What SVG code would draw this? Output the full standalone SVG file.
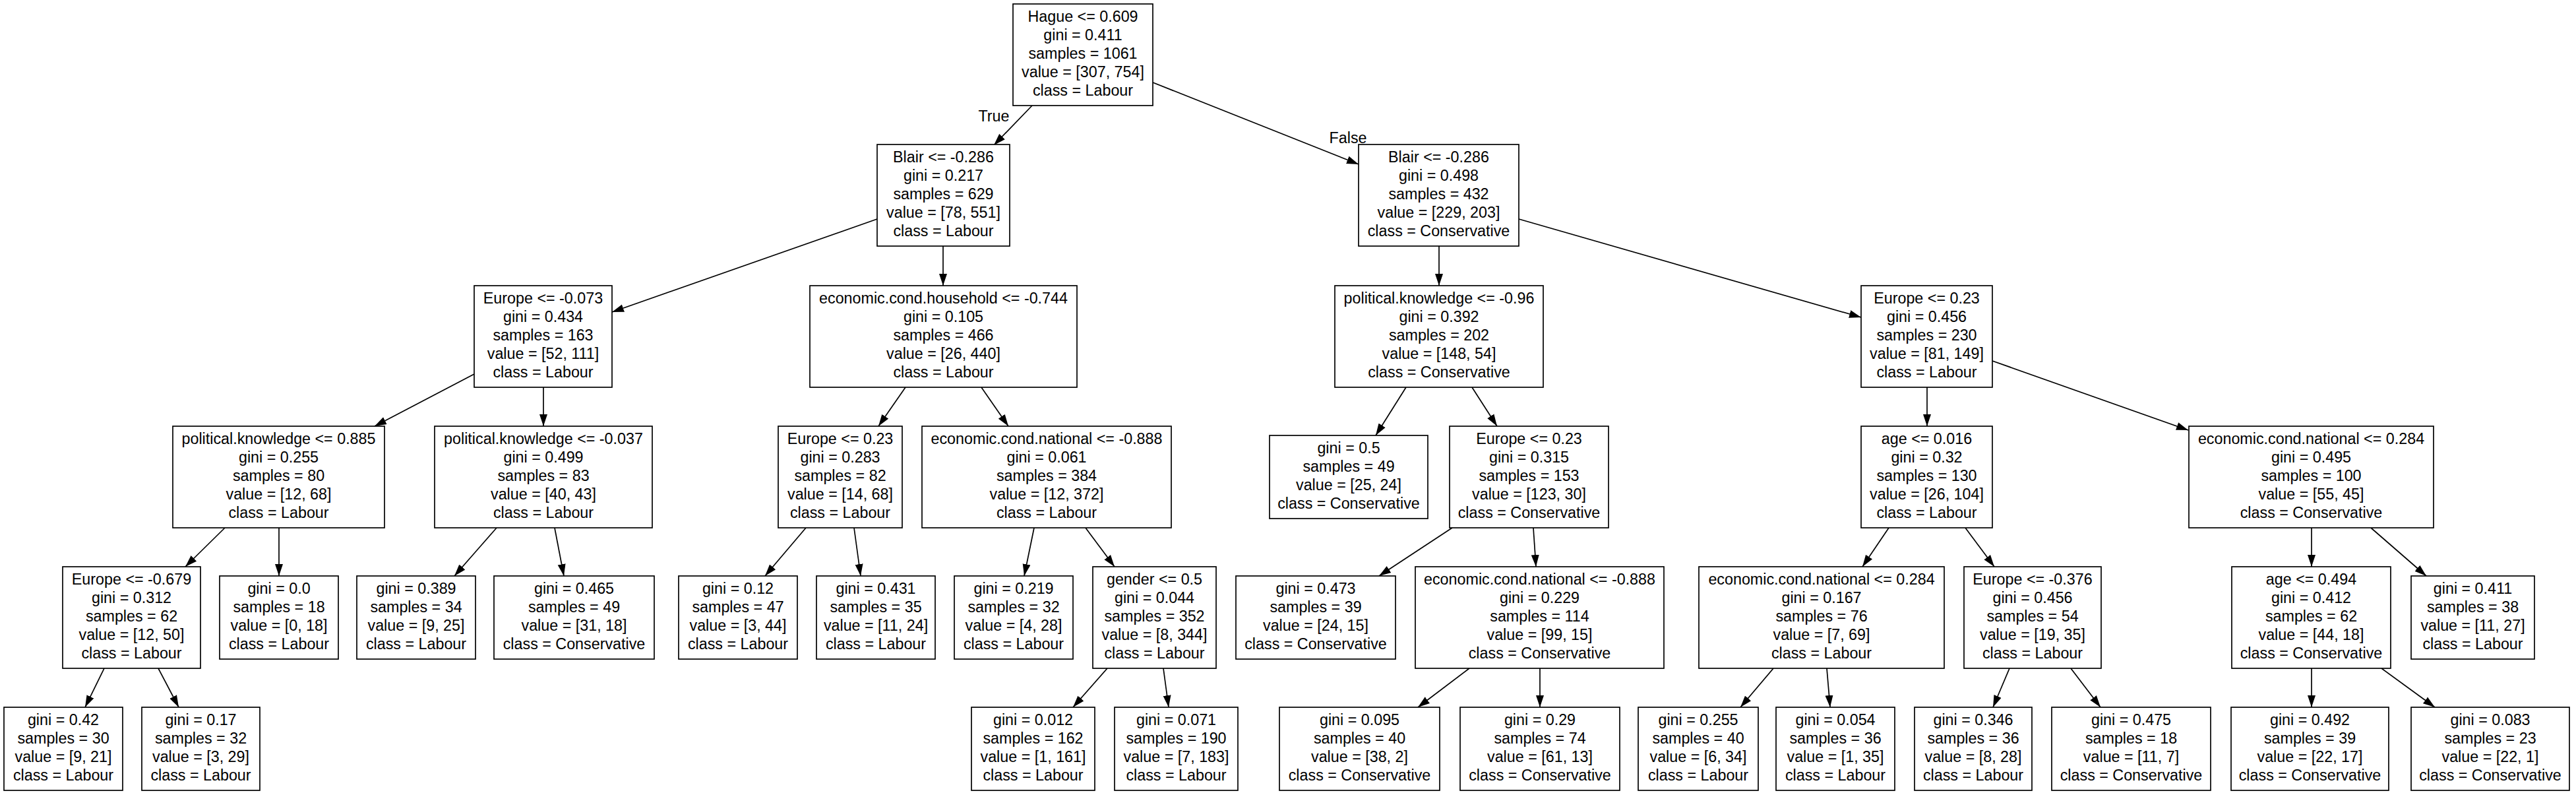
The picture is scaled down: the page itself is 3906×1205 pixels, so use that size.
<svg xmlns="http://www.w3.org/2000/svg" width="3906" height="1205" viewBox="0 0 3906 1205">
<style>
.b{fill:#fff;stroke:#000;stroke-width:1.7}
.t{font-family:"Liberation Sans",Arial,sans-serif;font-size:23.3px;text-anchor:middle;fill:#000}
.e{fill:none;stroke:#000;stroke-width:1.7;marker-end:url(#ah)}
</style>
<defs>
<marker id="ah" markerUnits="userSpaceOnUse" markerWidth="19" markerHeight="13" refX="18" refY="6.5" orient="auto"><path d="M0,0.5 L18,6.5 L0,12.5 z" fill="#000"/></marker>
</defs>
<rect width="3906" height="1205" fill="#fff"/>
<g id="connectors">
<path class="e" d="M1565,160 L1507,220"/>
<path class="e" d="M1748,125 L2060,249"/>
<path class="e" d="M1330,332 L928,473"/>
<path class="e" d="M1430,373 L1430,433"/>
<path class="e" d="M2182,373 L2182,433"/>
<path class="e" d="M2303,332 L2822,481"/>
<path class="e" d="M719,567 L568,646"/>
<path class="e" d="M824,587 L824,646"/>
<path class="e" d="M1373,587 L1332,646"/>
<path class="e" d="M1488,587 L1529,646"/>
<path class="e" d="M2132,587 L2086,660"/>
<path class="e" d="M2232,587 L2270,646"/>
<path class="e" d="M2922,587 L2922,646"/>
<path class="e" d="M3021,547 L3318,652"/>
<path class="e" d="M341,800 L281,859"/>
<path class="e" d="M423,800 L423,873"/>
<path class="e" d="M753,800 L689,873"/>
<path class="e" d="M841,800 L855,873"/>
<path class="e" d="M1222,800 L1160,873"/>
<path class="e" d="M1295,800 L1305,873"/>
<path class="e" d="M1568,800 L1553,873"/>
<path class="e" d="M1646,800 L1690,859"/>
<path class="e" d="M2202,800 L2091,873"/>
<path class="e" d="M2325,800 L2329,859"/>
<path class="e" d="M2864,800 L2824,859"/>
<path class="e" d="M2980,800 L3024,859"/>
<path class="e" d="M3505,800 L3505,859"/>
<path class="e" d="M3595,800 L3679,873"/>
<path class="e" d="M158,1013 L129,1072"/>
<path class="e" d="M240,1013 L271,1072"/>
<path class="e" d="M1679,1013 L1627,1072"/>
<path class="e" d="M1764,1013 L1772,1072"/>
<path class="e" d="M2228,1013 L2150,1072"/>
<path class="e" d="M2335,1013 L2335,1072"/>
<path class="e" d="M2689,1013 L2639,1072"/>
<path class="e" d="M2770,1013 L2775,1072"/>
<path class="e" d="M3047,1013 L3022,1072"/>
<path class="e" d="M3140,1013 L3185,1072"/>
<path class="e" d="M3505,1013 L3505,1072"/>
<path class="e" d="M3611,1013 L3692,1072"/>
<text class="t" x="1507" y="184">True</text>
<text class="t" x="2044" y="217">False</text>
</g>
<g id="n0"><rect class="b" x="1536" y="6" width="212" height="154"/><text class="t" y="33"><tspan x="1642">Hague &lt;= 0.609</tspan><tspan x="1642" dy="28">gini = 0.411</tspan><tspan x="1642" dy="28">samples = 1061</tspan><tspan x="1642" dy="28">value = [307, 754]</tspan><tspan x="1642" dy="28">class = Labour</tspan></text></g>
<g id="n1"><rect class="b" x="1330" y="219" width="201" height="154"/><text class="t" y="246"><tspan x="1430.5">Blair &lt;= -0.286</tspan><tspan x="1430.5" dy="28">gini = 0.217</tspan><tspan x="1430.5" dy="28">samples = 629</tspan><tspan x="1430.5" dy="28">value = [78, 551]</tspan><tspan x="1430.5" dy="28">class = Labour</tspan></text></g>
<g id="n2"><rect class="b" x="2060" y="219" width="243" height="154"/><text class="t" y="246"><tspan x="2181.5">Blair &lt;= -0.286</tspan><tspan x="2181.5" dy="28">gini = 0.498</tspan><tspan x="2181.5" dy="28">samples = 432</tspan><tspan x="2181.5" dy="28">value = [229, 203]</tspan><tspan x="2181.5" dy="28">class = Conservative</tspan></text></g>
<g id="n3"><rect class="b" x="719" y="433" width="209" height="154"/><text class="t" y="460"><tspan x="823.5">Europe &lt;= -0.073</tspan><tspan x="823.5" dy="28">gini = 0.434</tspan><tspan x="823.5" dy="28">samples = 163</tspan><tspan x="823.5" dy="28">value = [52, 111]</tspan><tspan x="823.5" dy="28">class = Labour</tspan></text></g>
<g id="n4"><rect class="b" x="1228" y="433" width="405" height="154"/><text class="t" y="460"><tspan x="1430.5">economic.cond.household &lt;= -0.744</tspan><tspan x="1430.5" dy="28">gini = 0.105</tspan><tspan x="1430.5" dy="28">samples = 466</tspan><tspan x="1430.5" dy="28">value = [26, 440]</tspan><tspan x="1430.5" dy="28">class = Labour</tspan></text></g>
<g id="n5"><rect class="b" x="2024" y="433" width="316" height="154"/><text class="t" y="460"><tspan x="2182">political.knowledge &lt;= -0.96</tspan><tspan x="2182" dy="28">gini = 0.392</tspan><tspan x="2182" dy="28">samples = 202</tspan><tspan x="2182" dy="28">value = [148, 54]</tspan><tspan x="2182" dy="28">class = Conservative</tspan></text></g>
<g id="n6"><rect class="b" x="2822" y="433" width="199" height="154"/><text class="t" y="460"><tspan x="2921.5">Europe &lt;= 0.23</tspan><tspan x="2921.5" dy="28">gini = 0.456</tspan><tspan x="2921.5" dy="28">samples = 230</tspan><tspan x="2921.5" dy="28">value = [81, 149]</tspan><tspan x="2921.5" dy="28">class = Labour</tspan></text></g>
<g id="n7"><rect class="b" x="262" y="646" width="321" height="154"/><text class="t" y="673"><tspan x="422.5">political.knowledge &lt;= 0.885</tspan><tspan x="422.5" dy="28">gini = 0.255</tspan><tspan x="422.5" dy="28">samples = 80</tspan><tspan x="422.5" dy="28">value = [12, 68]</tspan><tspan x="422.5" dy="28">class = Labour</tspan></text></g>
<g id="n8"><rect class="b" x="659" y="646" width="330" height="154"/><text class="t" y="673"><tspan x="824">political.knowledge &lt;= -0.037</tspan><tspan x="824" dy="28">gini = 0.499</tspan><tspan x="824" dy="28">samples = 83</tspan><tspan x="824" dy="28">value = [40, 43]</tspan><tspan x="824" dy="28">class = Labour</tspan></text></g>
<g id="n9"><rect class="b" x="1180" y="646" width="188" height="154"/><text class="t" y="673"><tspan x="1274">Europe &lt;= 0.23</tspan><tspan x="1274" dy="28">gini = 0.283</tspan><tspan x="1274" dy="28">samples = 82</tspan><tspan x="1274" dy="28">value = [14, 68]</tspan><tspan x="1274" dy="28">class = Labour</tspan></text></g>
<g id="n10"><rect class="b" x="1398" y="646" width="378" height="154"/><text class="t" y="673"><tspan x="1587">economic.cond.national &lt;= -0.888</tspan><tspan x="1587" dy="28">gini = 0.061</tspan><tspan x="1587" dy="28">samples = 384</tspan><tspan x="1587" dy="28">value = [12, 372]</tspan><tspan x="1587" dy="28">class = Labour</tspan></text></g>
<g id="n11"><rect class="b" x="1925" y="660" width="240" height="126"/><text class="t" y="687"><tspan x="2045">gini = 0.5</tspan><tspan x="2045" dy="28">samples = 49</tspan><tspan x="2045" dy="28">value = [25, 24]</tspan><tspan x="2045" dy="28">class = Conservative</tspan></text></g>
<g id="n12"><rect class="b" x="2198" y="646" width="241" height="154"/><text class="t" y="673"><tspan x="2318.5">Europe &lt;= 0.23</tspan><tspan x="2318.5" dy="28">gini = 0.315</tspan><tspan x="2318.5" dy="28">samples = 153</tspan><tspan x="2318.5" dy="28">value = [123, 30]</tspan><tspan x="2318.5" dy="28">class = Conservative</tspan></text></g>
<g id="n13"><rect class="b" x="2822" y="646" width="199" height="154"/><text class="t" y="673"><tspan x="2921.5">age &lt;= 0.016</tspan><tspan x="2921.5" dy="28">gini = 0.32</tspan><tspan x="2921.5" dy="28">samples = 130</tspan><tspan x="2921.5" dy="28">value = [26, 104]</tspan><tspan x="2921.5" dy="28">class = Labour</tspan></text></g>
<g id="n14"><rect class="b" x="3319" y="646" width="371" height="154"/><text class="t" y="673"><tspan x="3504.5">economic.cond.national &lt;= 0.284</tspan><tspan x="3504.5" dy="28">gini = 0.495</tspan><tspan x="3504.5" dy="28">samples = 100</tspan><tspan x="3504.5" dy="28">value = [55, 45]</tspan><tspan x="3504.5" dy="28">class = Conservative</tspan></text></g>
<g id="n15"><rect class="b" x="95" y="859" width="209" height="154"/><text class="t" y="886"><tspan x="199.5">Europe &lt;= -0.679</tspan><tspan x="199.5" dy="28">gini = 0.312</tspan><tspan x="199.5" dy="28">samples = 62</tspan><tspan x="199.5" dy="28">value = [12, 50]</tspan><tspan x="199.5" dy="28">class = Labour</tspan></text></g>
<g id="n16"><rect class="b" x="333" y="873" width="180" height="126"/><text class="t" y="900"><tspan x="423">gini = 0.0</tspan><tspan x="423" dy="28">samples = 18</tspan><tspan x="423" dy="28">value = [0, 18]</tspan><tspan x="423" dy="28">class = Labour</tspan></text></g>
<g id="n17"><rect class="b" x="541" y="873" width="180" height="126"/><text class="t" y="900"><tspan x="631">gini = 0.389</tspan><tspan x="631" dy="28">samples = 34</tspan><tspan x="631" dy="28">value = [9, 25]</tspan><tspan x="631" dy="28">class = Labour</tspan></text></g>
<g id="n18"><rect class="b" x="749" y="873" width="243" height="126"/><text class="t" y="900"><tspan x="870.5">gini = 0.465</tspan><tspan x="870.5" dy="28">samples = 49</tspan><tspan x="870.5" dy="28">value = [31, 18]</tspan><tspan x="870.5" dy="28">class = Conservative</tspan></text></g>
<g id="n19"><rect class="b" x="1029" y="873" width="180" height="126"/><text class="t" y="900"><tspan x="1119">gini = 0.12</tspan><tspan x="1119" dy="28">samples = 47</tspan><tspan x="1119" dy="28">value = [3, 44]</tspan><tspan x="1119" dy="28">class = Labour</tspan></text></g>
<g id="n20"><rect class="b" x="1238" y="873" width="180" height="126"/><text class="t" y="900"><tspan x="1328">gini = 0.431</tspan><tspan x="1328" dy="28">samples = 35</tspan><tspan x="1328" dy="28">value = [11, 24]</tspan><tspan x="1328" dy="28">class = Labour</tspan></text></g>
<g id="n21"><rect class="b" x="1447" y="873" width="180" height="126"/><text class="t" y="900"><tspan x="1537">gini = 0.219</tspan><tspan x="1537" dy="28">samples = 32</tspan><tspan x="1537" dy="28">value = [4, 28]</tspan><tspan x="1537" dy="28">class = Labour</tspan></text></g>
<g id="n22"><rect class="b" x="1657" y="859" width="187" height="154"/><text class="t" y="886"><tspan x="1750.5">gender &lt;= 0.5</tspan><tspan x="1750.5" dy="28">gini = 0.044</tspan><tspan x="1750.5" dy="28">samples = 352</tspan><tspan x="1750.5" dy="28">value = [8, 344]</tspan><tspan x="1750.5" dy="28">class = Labour</tspan></text></g>
<g id="n23"><rect class="b" x="1874" y="873" width="242" height="126"/><text class="t" y="900"><tspan x="1995">gini = 0.473</tspan><tspan x="1995" dy="28">samples = 39</tspan><tspan x="1995" dy="28">value = [24, 15]</tspan><tspan x="1995" dy="28">class = Conservative</tspan></text></g>
<g id="n24"><rect class="b" x="2146" y="859" width="377" height="154"/><text class="t" y="886"><tspan x="2334.5">economic.cond.national &lt;= -0.888</tspan><tspan x="2334.5" dy="28">gini = 0.229</tspan><tspan x="2334.5" dy="28">samples = 114</tspan><tspan x="2334.5" dy="28">value = [99, 15]</tspan><tspan x="2334.5" dy="28">class = Conservative</tspan></text></g>
<g id="n25"><rect class="b" x="2576" y="859" width="372" height="154"/><text class="t" y="886"><tspan x="2762">economic.cond.national &lt;= 0.284</tspan><tspan x="2762" dy="28">gini = 0.167</tspan><tspan x="2762" dy="28">samples = 76</tspan><tspan x="2762" dy="28">value = [7, 69]</tspan><tspan x="2762" dy="28">class = Labour</tspan></text></g>
<g id="n26"><rect class="b" x="2978" y="859" width="208" height="154"/><text class="t" y="886"><tspan x="3082">Europe &lt;= -0.376</tspan><tspan x="3082" dy="28">gini = 0.456</tspan><tspan x="3082" dy="28">samples = 54</tspan><tspan x="3082" dy="28">value = [19, 35]</tspan><tspan x="3082" dy="28">class = Labour</tspan></text></g>
<g id="n27"><rect class="b" x="3384" y="859" width="241" height="154"/><text class="t" y="886"><tspan x="3504.5">age &lt;= 0.494</tspan><tspan x="3504.5" dy="28">gini = 0.412</tspan><tspan x="3504.5" dy="28">samples = 62</tspan><tspan x="3504.5" dy="28">value = [44, 18]</tspan><tspan x="3504.5" dy="28">class = Conservative</tspan></text></g>
<g id="n28"><rect class="b" x="3656" y="873" width="187" height="126"/><text class="t" y="900"><tspan x="3749.5">gini = 0.411</tspan><tspan x="3749.5" dy="28">samples = 38</tspan><tspan x="3749.5" dy="28">value = [11, 27]</tspan><tspan x="3749.5" dy="28">class = Labour</tspan></text></g>
<g id="n29"><rect class="b" x="6" y="1072" width="180" height="126"/><text class="t" y="1099"><tspan x="96">gini = 0.42</tspan><tspan x="96" dy="28">samples = 30</tspan><tspan x="96" dy="28">value = [9, 21]</tspan><tspan x="96" dy="28">class = Labour</tspan></text></g>
<g id="n30"><rect class="b" x="215" y="1072" width="179" height="126"/><text class="t" y="1099"><tspan x="304.5">gini = 0.17</tspan><tspan x="304.5" dy="28">samples = 32</tspan><tspan x="304.5" dy="28">value = [3, 29]</tspan><tspan x="304.5" dy="28">class = Labour</tspan></text></g>
<g id="n31"><rect class="b" x="1473" y="1072" width="187" height="126"/><text class="t" y="1099"><tspan x="1566.5">gini = 0.012</tspan><tspan x="1566.5" dy="28">samples = 162</tspan><tspan x="1566.5" dy="28">value = [1, 161]</tspan><tspan x="1566.5" dy="28">class = Labour</tspan></text></g>
<g id="n32"><rect class="b" x="1690" y="1072" width="187" height="126"/><text class="t" y="1099"><tspan x="1783.5">gini = 0.071</tspan><tspan x="1783.5" dy="28">samples = 190</tspan><tspan x="1783.5" dy="28">value = [7, 183]</tspan><tspan x="1783.5" dy="28">class = Labour</tspan></text></g>
<g id="n33"><rect class="b" x="1940" y="1072" width="243" height="126"/><text class="t" y="1099"><tspan x="2061.5">gini = 0.095</tspan><tspan x="2061.5" dy="28">samples = 40</tspan><tspan x="2061.5" dy="28">value = [38, 2]</tspan><tspan x="2061.5" dy="28">class = Conservative</tspan></text></g>
<g id="n34"><rect class="b" x="2214" y="1072" width="242" height="126"/><text class="t" y="1099"><tspan x="2335">gini = 0.29</tspan><tspan x="2335" dy="28">samples = 74</tspan><tspan x="2335" dy="28">value = [61, 13]</tspan><tspan x="2335" dy="28">class = Conservative</tspan></text></g>
<g id="n35"><rect class="b" x="2484" y="1072" width="182" height="126"/><text class="t" y="1099"><tspan x="2575">gini = 0.255</tspan><tspan x="2575" dy="28">samples = 40</tspan><tspan x="2575" dy="28">value = [6, 34]</tspan><tspan x="2575" dy="28">class = Labour</tspan></text></g>
<g id="n36"><rect class="b" x="2693" y="1072" width="180" height="126"/><text class="t" y="1099"><tspan x="2783">gini = 0.054</tspan><tspan x="2783" dy="28">samples = 36</tspan><tspan x="2783" dy="28">value = [1, 35]</tspan><tspan x="2783" dy="28">class = Labour</tspan></text></g>
<g id="n37"><rect class="b" x="2903" y="1072" width="178" height="126"/><text class="t" y="1099"><tspan x="2992">gini = 0.346</tspan><tspan x="2992" dy="28">samples = 36</tspan><tspan x="2992" dy="28">value = [8, 28]</tspan><tspan x="2992" dy="28">class = Labour</tspan></text></g>
<g id="n38"><rect class="b" x="3111" y="1072" width="241" height="126"/><text class="t" y="1099"><tspan x="3231.5">gini = 0.475</tspan><tspan x="3231.5" dy="28">samples = 18</tspan><tspan x="3231.5" dy="28">value = [11, 7]</tspan><tspan x="3231.5" dy="28">class = Conservative</tspan></text></g>
<g id="n39"><rect class="b" x="3383" y="1072" width="239" height="126"/><text class="t" y="1099"><tspan x="3502.5">gini = 0.492</tspan><tspan x="3502.5" dy="28">samples = 39</tspan><tspan x="3502.5" dy="28">value = [22, 17]</tspan><tspan x="3502.5" dy="28">class = Conservative</tspan></text></g>
<g id="n40"><rect class="b" x="3656" y="1072" width="240" height="126"/><text class="t" y="1099"><tspan x="3776">gini = 0.083</tspan><tspan x="3776" dy="28">samples = 23</tspan><tspan x="3776" dy="28">value = [22, 1]</tspan><tspan x="3776" dy="28">class = Conservative</tspan></text></g>
</svg>
